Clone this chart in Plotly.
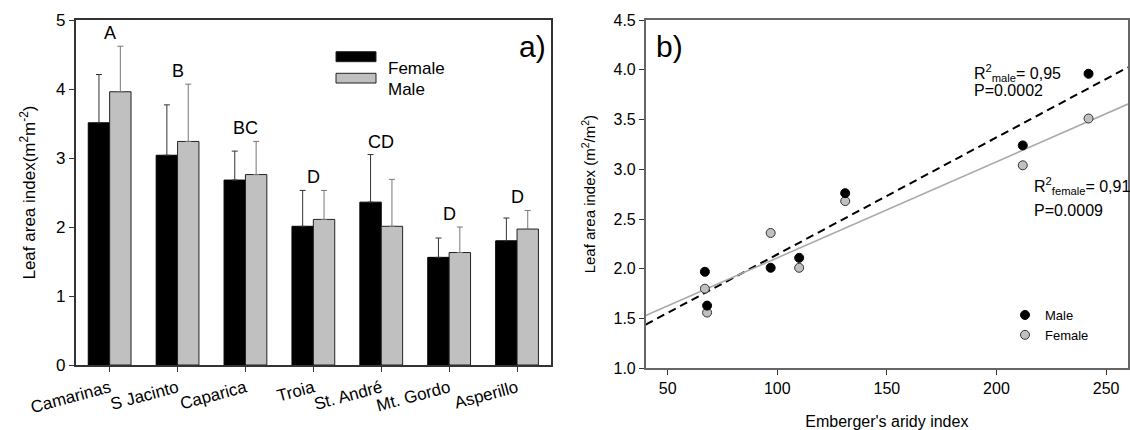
import plotly.graph_objects as go
import numpy as np

# ---------------- data ----------------
sites = ["Camarinas", "S Jacinto", "Caparica", "Troia", "St. André", "Mt. Gordo", "Asperillo"]
female_lai = [3.51, 3.04, 2.68, 2.01, 2.36, 1.56, 1.80]
female_sd = [0.70, 0.73, 0.42, 0.52, 0.69, 0.28, 0.33]
male_lai = [3.96, 3.24, 2.76, 2.11, 2.01, 1.63, 1.97]
male_sd = [0.66, 0.83, 0.48, 0.42, 0.68, 0.37, 0.27]
letters = ["A", "B", "BC", "D", "CD", "D", "D"]
aridity = [242, 212, 131, 110, 97, 68, 67]
x_ticks_b = [50, 100, 150, 200, 250]

FONT = "Liberation Sans, Arial, sans-serif"
W, H = 1130, 430
GRAY = "#c0c0c0"

fig = go.Figure()

# ---------------- panel a: bars ----------------
fig.add_trace(go.Bar(
    x=sites, y=female_lai, name="Female", xaxis="x", yaxis="y",
    marker=dict(color="black", line=dict(color="black", width=1)),
    error_y=dict(type="data", symmetric=False, array=female_sd,
                 arrayminus=[0] * len(female_sd), color="#333333", thickness=1, width=3),
    showlegend=False))
fig.add_trace(go.Bar(
    x=sites, y=male_lai, name="Male", xaxis="x", yaxis="y",
    marker=dict(color=GRAY, line=dict(color="#222222", width=1)),
    error_y=dict(type="data", symmetric=False, array=male_sd,
                 arrayminus=[0] * len(male_sd), color="#777777", thickness=1, width=3),
    showlegend=False))

# ---------------- panel b: scatter + fits ----------------
xa = np.array(aridity, dtype=float)
xfit = np.array([40.0, 260.0])
for vals, color, dash, width in [(male_lai, "black", "8px,5px", 2),
                                 (female_lai, "#aaaaaa", "solid", 1.6)]:
    k, b = np.polyfit(xa, np.array(vals), 1)
    fig.add_trace(go.Scatter(x=xfit, y=k * xfit + b, mode="lines", xaxis="x2", yaxis="y2",
                             line=dict(color=color, dash=dash, width=width),
                             showlegend=False, hoverinfo="skip"))

fig.add_trace(go.Scatter(x=aridity, y=female_lai, mode="markers", name="Female",
                         xaxis="x2", yaxis="y2",
                         marker=dict(color=GRAY, size=9, line=dict(color="#333333", width=1))))
fig.add_trace(go.Scatter(x=aridity, y=male_lai, mode="markers", name="Male",
                         xaxis="x2", yaxis="y2",
                         marker=dict(color="black", size=9, line=dict(color="black", width=1))))

# ---------------- annotations ----------------
ann = []
for s, f, fs, m, ms, L in zip(sites, female_lai, female_sd, male_lai, male_sd, letters):
    ann.append(dict(x=s, y=max(f + fs, m + ms), xref="x", yref="y", text=L, showarrow=False,
                    yanchor="bottom", yshift=1, font=dict(size=18, color="black")))

ann.append(dict(x=6.23, y=4.62, xref="x", yref="y", text="a)", showarrow=False,
                font=dict(size=30, color="black")))
ann.append(dict(x=51, y=4.23, xref="x2", yref="y2", text="b)", showarrow=False,
                font=dict(size=30, color="black")))

ann.append(dict(x=189, y=3.97, xref="x2", yref="y2", xanchor="left",
                text="R<sup>2</sup><sub>male</sub>= 0,95", showarrow=False,
                font=dict(size=16, color="black")))
ann.append(dict(x=189, y=3.79, xref="x2", yref="y2", xanchor="left",
                text="P=0.0002", showarrow=False, font=dict(size=16, color="black")))
ann.append(dict(x=216.3, y=2.83, xref="x2", yref="y2", xanchor="left",
                text="R<sup>2</sup><sub>female</sub>= 0,91", showarrow=False,
                font=dict(size=16, color="black")))
ann.append(dict(x=216.3, y=2.59, xref="x2", yref="y2", xanchor="left",
                text="P=0.0009", showarrow=False, font=dict(size=16, color="black")))

# manual legend for panel a
shapes = []
for (label, fill, y0, y1) in [("Female", "black", 51.7, 61.7), ("Male", GRAY, 73.3, 83.0)]:
    shapes.append(dict(type="rect", xref="paper", yref="paper",
                       x0=336 / W, x1=376 / W, y0=1 - y1 / H, y1=1 - y0 / H,
                       fillcolor=fill, line=dict(color="#222222", width=1)))
    ann.append(dict(x=386 / W, y=1 - (y0 + y1) / 2 / H, xref="paper", yref="paper",
                    xanchor="left", text=label, showarrow=False,
                    font=dict(size=17, color="black")))

axis_common = dict(showline=True, mirror=True, showgrid=False, zeroline=False,
                   ticks="outside", ticklen=5, tickcolor="#333333", automargin=False)

fig.update_layout(
    width=W, height=H,
    margin=dict(l=0, r=0, t=0, b=0, autoexpand=False),
    paper_bgcolor="white", plot_bgcolor="white",
    font=dict(family=FONT, color="black"),
    barmode="group", bargap=0.37, bargroupgap=0,
    xaxis=dict(domain=[75.7 / W, 551 / W], anchor="y", type="category",
               range=[-0.5, 6.5], tickangle=-15, linecolor="#333333", linewidth=1.5,
               tickfont=dict(size=17, color="black"), **axis_common),
    yaxis=dict(domain=[1 - 365 / H, 1 - 20 / H], anchor="x", range=[0, 5], dtick=1,
               linecolor="#333333", linewidth=1.5, tickfont=dict(size=17, color="black"),
               title=dict(text="Leaf area index(m<sup>2</sup>m<sup>-2</sup>)",
                          font=dict(size=17), standoff=16),
               **axis_common),
    xaxis2=dict(domain=[645.7 / W, 1128 / W], anchor="y2", range=[40, 260],
                tickvals=x_ticks_b, linecolor="#666666", linewidth=1.5,
                tickfont=dict(size=16, color="black"),
                title=dict(text="Emberger's aridy index", font=dict(size=16), standoff=24),
                **axis_common),
    yaxis2=dict(domain=[1 - 368.3 / H, 1 - 20 / H], anchor="x2", range=[1, 4.5], dtick=0.5,
                tickformat=".1f", linecolor="#666666", linewidth=1.5,
                tickfont=dict(size=16, color="black"),
                title=dict(text="Leaf area index (m<sup>2</sup>/m<sup>2</sup>)",
                           font=dict(size=15), standoff=14),
                **axis_common),
    legend=dict(x=1005 / W, xanchor="left", y=1 - 300 / H, yanchor="top",
                traceorder="reversed", font=dict(size=13), bgcolor="rgba(0,0,0,0)",
                tracegroupgap=0, itemwidth=30),
    annotations=ann,
    shapes=shapes,
)

fig.write_html("out.html")
